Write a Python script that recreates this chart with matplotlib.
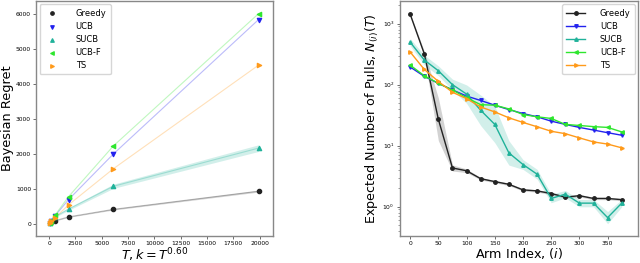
import matplotlib
matplotlib.use("Agg")
import matplotlib.pyplot as plt
import numpy as np

# ---- left panel: regret vs horizon
horizon = np.array([50, 170, 550, 1850, 6100, 19900])
regret_greedy = np.array([20, 45, 85, 195, 410, 930])
regret_ucb = np.array([30, 85, 220, 690, 1990, 5830])
regret_sucb = np.array([28, 75, 200, 420, 1070, 2160])
regret_ucbf = np.array([32, 90, 240, 775, 2220, 6000])
regret_ts = np.array([25, 70, 170, 540, 1570, 4530])
band_greedy = np.array([3, 5, 8, 12, 18, 25])
band_sucb = np.array([5, 10, 20, 35, 60, 95])

# ---- right panel: pulls per arm
arm_index = np.arange(0, 400, 25)
pulls_greedy = np.array([1430, 322, 27, 4.3, 3.87, 2.87, 2.57, 2.32, 1.88, 1.81, 1.64, 1.43, 1.51, 1.36, 1.36, 1.30])
pulls_ucb = np.array([195, 137, 105, 82, 65, 55, 46, 39, 33.6, 29.7, 25.2, 22.3, 19.9, 18.0, 16.3, 14.8])
pulls_sucb = np.array([497, 254, 169, 100, 70, 38, 22.3, 7.6, 4.9, 3.4, 1.36, 1.6, 1.14, 1.14, 0.66, 1.14])
pulls_ucbf = np.array([209, 140, 105, 82, 61, 47, 46, 40, 32.4, 29.7, 27.9, 22.3, 21.4, 20.5, 19.9, 16.8])
pulls_ts = np.array([343, 178, 113, 75, 59, 43, 35.7, 28.6, 24, 20.4, 17.2, 15.7, 13.4, 11.5, 10.6, 9.2])
# half-width of shaded band, in decades
spread_greedy = np.array([0.02, 0.04, 0.35, 0.05, 0.03, 0.02, 0.02, 0.02, 0.02, 0.02, 0.02, 0.02, 0.02, 0.02, 0.02, 0.02])
spread_sucb = np.array([0.06, 0.08, 0.08, 0.09, 0.15, 0.25, 0.3, 0.2, 0.08, 0.08, 0.07, 0.06, 0.06, 0.06, 0.1, 0.06])

names = ["Greedy", "UCB", "SUCB", "UCB-F", "TS"]
colors = ["#222222", "#2222ee", "#20b29a", "#2ee62e", "#ff9a1a"]
markers = ["o", "v", "^", "<", ">"]

fig = plt.figure(figsize=(6.4, 2.63), dpi=100)
ax1 = fig.add_axes([0.057, 0.104, 0.37, 0.892])
ax2 = fig.add_axes([0.625, 0.104, 0.372, 0.892])

regrets = [regret_greedy, regret_ucb, regret_sucb, regret_ucbf, regret_ts]
for name, c, m, r in zip(names, colors, markers, regrets):
    ax1.plot(horizon, r, color=c, alpha=0.3, lw=0.8)
    ax1.scatter(horizon, r, color=c, marker=m, s=9, label=name, zorder=3)
ax1.fill_between(horizon, regret_greedy - band_greedy, regret_greedy + band_greedy, color=colors[0], alpha=0.2, lw=0)
ax1.fill_between(horizon, regret_sucb - band_sucb, regret_sucb + band_sucb, color=colors[2], alpha=0.2, lw=0)
ax1.set_xlim(-1200, 21300)
ax1.set_ylim(-340, 6360)
ax1.set_xticks(np.arange(0, 20001, 2500))
ax1.set_yticks(np.arange(0, 6001, 1000))
ax1.set_xlabel(r"$T, k = T^{0.60}$", fontsize=9.2, labelpad=0)
ax1.set_ylabel("Bayesian Regret", fontsize=9.3, labelpad=1)
ax1.legend(loc="upper left", fontsize=6, handletextpad=1.8, borderpad=0.5,
           borderaxespad=0.4, markerscale=0.8, handlelength=2)

pulls = [pulls_greedy, pulls_ucb, pulls_sucb, pulls_ucbf, pulls_ts]
for name, c, m, p in zip(names, colors, markers, pulls):
    ax2.plot(arm_index, p, color=c, marker=m, ms=2.5, lw=1.0, label=name)
for p, s, c in [(pulls_greedy, spread_greedy, colors[0]), (pulls_sucb, spread_sucb, colors[2])]:
    ax2.fill_between(arm_index, p * 10 ** (-s), p * 10 ** s, color=c, alpha=0.2, lw=0)
ax2.set_yscale("log")
ax2.set_xlim(-18, 404)
ax2.set_ylim(0.334, 2350)
ax2.set_xticks(np.arange(0, 351, 50))
ax2.set_xlabel("Arm Index, $(i)$", fontsize=9.2, labelpad=0)
ax2.set_ylabel("Expected Number of Pulls, $N_{(i)}(T)$", fontsize=9.2, labelpad=1)
ax2.legend(loc="upper right", fontsize=6, handletextpad=1.8, borderpad=0.5,
           borderaxespad=0.4, handlelength=2.2)

for ax in (ax1, ax2):
    ax.tick_params(labelsize=4.3, length=2.5, width=0.6, pad=1.5, color="#555555")
    ax.tick_params(which="minor", length=1.5, width=0.5, color="#777777")
    for sp in ax.spines.values():
        sp.set_color("#888888")
        sp.set_linewidth(1.0)

fig.savefig("out.png", dpi=100)
